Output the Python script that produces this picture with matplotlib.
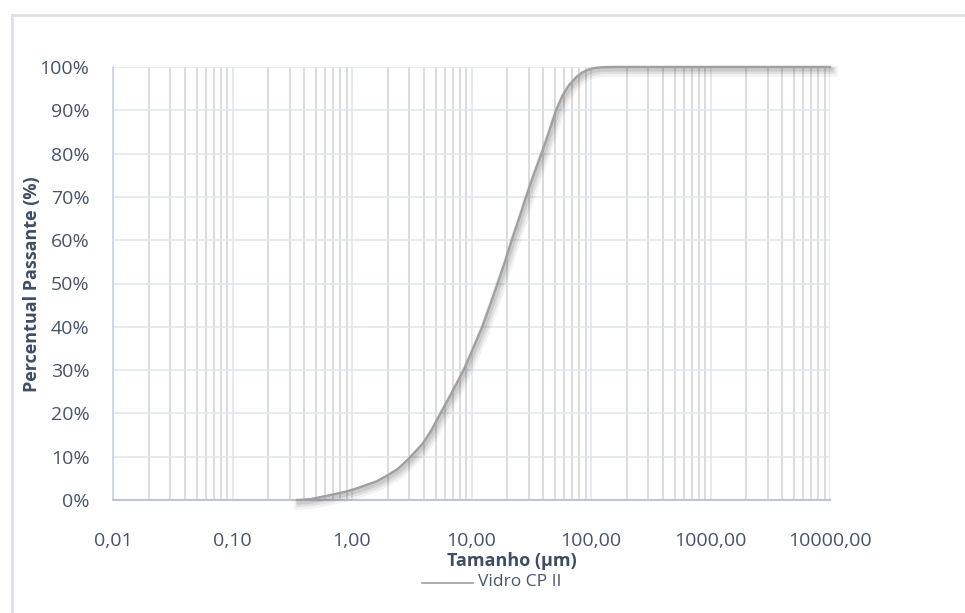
# Curva granulometrica - Vidro CP II
import numpy as np
import matplotlib.pyplot as plt
import matplotlib.patheffects as pe
from matplotlib.lines import Line2D
from matplotlib.ticker import LogLocator, NullFormatter

# -- Data ---------------------------------------------------------------------
tamanho = [0.35, 0.45, 0.55, 0.7, 0.88, 1.1, 1.3, 1.6, 1.9, 2.4, 3.0, 3.9,
           4.6, 5.5, 6.9, 8.6, 10.3, 12.3, 14.5, 17.0, 19.3, 21.7, 25.0,
           28.6, 33.0, 38.5, 44.5, 51.0, 58.0, 65.0, 75.0, 84.0, 95.0,
           109.0, 125.0, 150.0, 200.0, 500.0, 2000.0, 10000.0]
passante = [0, 0.2, 0.7, 1.3, 1.9, 2.7, 3.4, 4.3, 5.4, 7.1, 9.6, 13.0,
            16.0, 20.0, 25.0, 30.0, 35.0, 40.0, 45.5, 51.0, 55.5, 60.0, 65.0,
            70.0, 75.0, 80.0, 85.0, 90.0, 93.5, 95.7, 97.6, 98.7, 99.4,
            99.8, 99.95, 100, 100, 100, 100, 100]

xticks = [0.01, 0.1, 1, 10, 100, 1000, 10000]
xticklabels = ['0,01', '0,10', '1,00', '10,00', '100,00', '1000,00', '10000,00']
yticks = list(range(0, 101, 10))
yticklabels = ['%d%%' % v for v in yticks]
serie = 'Vidro CP II'

# -- Style --------------------------------------------------------------------
W, H = 965, 613
txt = '#48546a'
lbl = '#3f4d63'
plt.rcParams['font.family'] = ['Open Sans', 'DejaVu Sans']

fig = plt.figure(figsize=(W / 100, H / 100), dpi=100)
ax = fig.add_axes([113 / W, 1 - 500 / H, (830 - 113) / W, (500 - 67) / H])

ax.set_xscale('log')
ax.set_xlim(0.01, 10000)
ax.set_ylim(0, 100)

ax.xaxis.set_minor_locator(LogLocator(base=10, subs=range(2, 10), numticks=20))
ax.xaxis.set_minor_formatter(NullFormatter())
ax.set_xticks(xticks, xticklabels)
ax.set_yticks(yticks, yticklabels)

ax.grid(which='minor', axis='x', color='#d2d2d2', lw=1.1)
ax.grid(which='major', axis='both', color='#dfe4ee', lw=1.1)
ax.set_axisbelow(True)
ax.tick_params(which='both', length=0)
ax.tick_params(axis='x', pad=23, labelsize=14, labelcolor=txt)
ax.tick_params(axis='y', pad=17, labelsize=14, labelcolor=txt)

for s in ['top', 'right']:
    ax.spines[s].set_visible(False)
ax.spines['left'].set_color('#cbd2df')
ax.spines['bottom'].set_color('#c2c5d0')
ax.spines['left'].set_linewidth(1.2)
ax.spines['bottom'].set_linewidth(1.5)

# curve with soft shadow
shadow = [
    pe.SimpleLineShadow(offset=(1.5, -3.0), shadow_color='k', alpha=0.05, linewidth=8),
    pe.SimpleLineShadow(offset=(1.5, -2.5), shadow_color='k', alpha=0.07, linewidth=5),
    pe.SimpleLineShadow(offset=(1.0, -1.8), shadow_color='k', alpha=0.09, linewidth=3),
    pe.Normal(),
]
ax.plot(tamanho, passante, color='#a0a0a0', lw=1.7, clip_on=False,
        path_effects=shadow, zorder=3)

# labels
fig.text(512 / W, 1 - 561 / H, 'Tamanho (µm)', ha='center', va='center',
         fontsize=13, fontweight='bold', color=lbl)
fig.text(32 / W, 1 - 284 / H, 'Percentual Passante (%)', ha='center', va='center',
         rotation=90, fontsize=13, fontweight='bold', color=lbl)

# legend
fig.add_artist(Line2D([422 / W, 473 / W], [1 - 583 / H, 1 - 583 / H],
                      color='#a0a0a0', lw=1.2))
fig.text(478 / W, 1 - 582 / H, serie, ha='left', va='center',
         fontsize=12.5, color=txt)

# outer chart frame
fig.add_artist(Line2D([12 / W, 1], [1 - 15 / H, 1 - 15 / H], color='#dde1e7', lw=2))
fig.add_artist(Line2D([12 / W, 12 / W], [0, 1 - 15 / H], color='#dde1e7', lw=2))

fig.savefig('out.png', dpi=100)
